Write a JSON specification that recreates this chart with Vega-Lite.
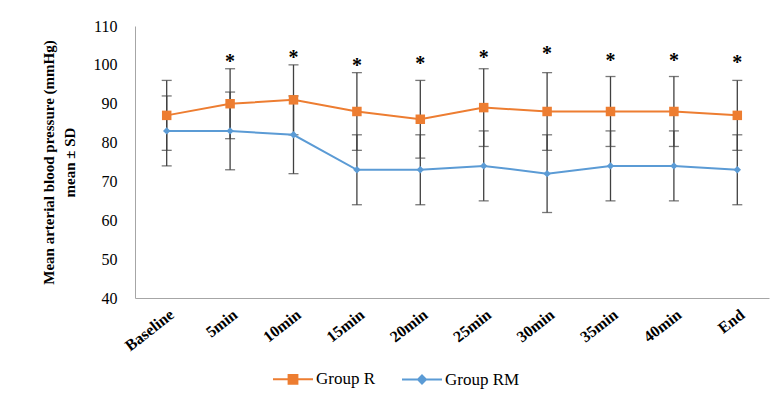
{
  "$schema": "https://vega.github.io/schema/vega-lite/v6.json",
  "width": 634,
  "height": 272,
  "autosize": "none",
  "padding": {"left": 135, "top": 26, "right": 13, "bottom": 96},
  "background": "white",
  "config": {
    "view": {"stroke": null},
    "font": "Liberation Serif",
    "axis": {"labelFont": "Liberation Serif", "titleFont": "Liberation Serif"},
    "legend": {"labelFont": "Liberation Serif"},
    "text": {"font": "Liberation Serif"}
  },
  "datasets": {
    "mbp": [
      {"time": "Baseline", "group": "Group R", "mean": 87, "low": 78, "high": 96},
      {"time": "5min", "group": "Group R", "mean": 90, "low": 81, "high": 99},
      {"time": "10min", "group": "Group R", "mean": 91, "low": 82, "high": 100},
      {"time": "15min", "group": "Group R", "mean": 88, "low": 78, "high": 98},
      {"time": "20min", "group": "Group R", "mean": 86, "low": 76, "high": 96},
      {"time": "25min", "group": "Group R", "mean": 89, "low": 79, "high": 99},
      {"time": "30min", "group": "Group R", "mean": 88, "low": 78, "high": 98},
      {"time": "35min", "group": "Group R", "mean": 88, "low": 79, "high": 97},
      {"time": "40min", "group": "Group R", "mean": 88, "low": 79, "high": 97},
      {"time": "End", "group": "Group R", "mean": 87, "low": 78, "high": 96},
      {"time": "Baseline", "group": "Group RM", "mean": 83, "low": 74, "high": 92},
      {"time": "5min", "group": "Group RM", "mean": 83, "low": 73, "high": 93},
      {"time": "10min", "group": "Group RM", "mean": 82, "low": 72, "high": 92},
      {"time": "15min", "group": "Group RM", "mean": 73, "low": 64, "high": 82},
      {"time": "20min", "group": "Group RM", "mean": 73, "low": 64, "high": 82},
      {"time": "25min", "group": "Group RM", "mean": 74, "low": 65, "high": 83},
      {"time": "30min", "group": "Group RM", "mean": 72, "low": 62, "high": 82},
      {"time": "35min", "group": "Group RM", "mean": 74, "low": 65, "high": 83},
      {"time": "40min", "group": "Group RM", "mean": 74, "low": 65, "high": 83},
      {"time": "End", "group": "Group RM", "mean": 73, "low": 64, "high": 82}
    ],
    "stars": [
      {"time": "5min", "pos": 102.0},
      {"time": "10min", "pos": 103.1},
      {"time": "15min", "pos": 100.9},
      {"time": "20min", "pos": 101.5},
      {"time": "25min", "pos": 103.1},
      {"time": "30min", "pos": 104.2},
      {"time": "35min", "pos": 102.4},
      {"time": "40min", "pos": 102.4},
      {"time": "End", "pos": 101.8}
    ]
  },
  "layer": [
    {
      "data": {"name": "mbp"},
      "mark": {"type": "rule", "color": "#404040", "strokeWidth": 1.3},
      "encoding": {
        "x": {
          "field": "time", "type": "nominal", "title": null,
          "scale": {"type": "point", "padding": 0.5, "domain": ["Baseline", "5min", "10min", "15min", "20min", "25min", "30min", "35min", "40min", "End"]},
          "axis": {"labelAngle": -38, "labelFont": "Liberation Serif", "labelFontWeight": "bold", "labelFontSize": 16, "labelColor": "#000", "ticks": false, "labelPadding": 8, "domainColor": "#a6a6a6", "domainWidth": 1, "grid": false, "labelOverlap": false}
        },
        "y": {
          "field": "low", "type": "quantitative",
          "title": ["Mean arterial blood pressure (mmHg)", "mean ± SD"],
          "scale": {"domain": [40, 110], "nice": false},
          "axis": {"values": [40, 50, 60, 70, 80, 90, 100, 110], "labelOverlap": false, "grid": false, "ticks": false, "labelPadding": 18, "labelFont": "Liberation Serif", "labelFontSize": 16, "labelColor": "#000", "domainColor": "#a6a6a6", "domainWidth": 1, "titleFont": "Liberation Serif", "titleFontSize": 15, "titleFontWeight": "bold", "titleColor": "#000", "titleLineHeight": 21, "titlePadding": 16}
        },
        "y2": {"field": "high"}
      }
    },
    {
      "data": {"name": "mbp"},
      "mark": {"type": "tick", "color": "#404040", "thickness": 1.3, "size": 10, "orient": "horizontal"},
      "encoding": {
        "x": {"field": "time", "type": "nominal"},
        "y": {"field": "low", "type": "quantitative", "title": ["Mean arterial blood pressure (mmHg)", "mean ± SD"], "axis": {"values": [40, 50, 60, 70, 80, 90, 100, 110], "labelOverlap": false}}
      }
    },
    {
      "data": {"name": "mbp"},
      "mark": {"type": "tick", "color": "#404040", "thickness": 1.3, "size": 10, "orient": "horizontal"},
      "encoding": {
        "x": {"field": "time", "type": "nominal"},
        "y": {"field": "high", "type": "quantitative", "title": ["Mean arterial blood pressure (mmHg)", "mean ± SD"], "axis": {"values": [40, 50, 60, 70, 80, 90, 100, 110], "labelOverlap": false}}
      }
    },
    {
      "data": {"name": "mbp"},
      "mark": {"type": "line", "strokeWidth": 2},
      "encoding": {
        "x": {"field": "time", "type": "nominal"},
        "y": {"field": "mean", "type": "quantitative", "title": ["Mean arterial blood pressure (mmHg)", "mean ± SD"], "axis": {"values": [40, 50, 60, 70, 80, 90, 100, 110], "labelOverlap": false}},
        "color": {
          "field": "group", "type": "nominal",
          "scale": {"domain": ["Group R", "Group RM"], "range": ["#ED7D31", "#5B9BD5"]},
          "legend": {
            "title": null, "orient": "none", "direction": "horizontal",
            "legendX": 137, "legendY": 332,
            "symbolSize": 1600, "symbolStrokeWidth": 2,
            "labelFont": "Liberation Serif", "labelFontSize": 17, "labelColor": "#000", "labelOffset": 2, "columnPadding": 22,
            "encode": {
              "symbols": {
                "update": {
                  "shape": {"signal": "datum.value === 'Group R' ? 'M-1,0H1M-0.22,-0.22H0.22V0.22H-0.22Z' : 'M-1,0H1M0,-0.2L0.2,0L0,0.2L-0.2,0Z'"},
                  "fill": {"scale": "color", "field": "value"},
                  "stroke": {"scale": "color", "field": "value"},
                  "strokeWidth": {"value": 2},
                  "fillOpacity": {"value": 1},
                  "strokeOpacity": {"value": 1}
                }
              }
            }
          }
        }
      }
    },
    {
      "data": {"name": "mbp"},
      "transform": [{"filter": "datum.group === 'Group R'"}],
      "mark": {"type": "point", "filled": true, "opacity": 1, "shape": "square", "size": 90, "color": "#ED7D31"},
      "encoding": {
        "x": {"field": "time", "type": "nominal"},
        "y": {"field": "mean", "type": "quantitative", "title": ["Mean arterial blood pressure (mmHg)", "mean ± SD"], "axis": {"values": [40, 50, 60, 70, 80, 90, 100, 110], "labelOverlap": false}}
      }
    },
    {
      "data": {"name": "mbp"},
      "transform": [{"filter": "datum.group === 'Group RM'"}],
      "mark": {"type": "point", "filled": true, "opacity": 1, "shape": "diamond", "size": 55, "color": "#5B9BD5"},
      "encoding": {
        "x": {"field": "time", "type": "nominal"},
        "y": {"field": "mean", "type": "quantitative", "title": ["Mean arterial blood pressure (mmHg)", "mean ± SD"], "axis": {"values": [40, 50, 60, 70, 80, 90, 100, 110], "labelOverlap": false}}
      }
    },
    {
      "data": {"name": "stars"},
      "mark": {"type": "text", "text": "*", "font": "Liberation Serif", "fontSize": 20, "fontWeight": "bold", "color": "#000", "baseline": "alphabetic", "dy": 11},
      "encoding": {
        "x": {"field": "time", "type": "nominal"},
        "y": {"field": "pos", "type": "quantitative", "title": ["Mean arterial blood pressure (mmHg)", "mean ± SD"], "axis": {"values": [40, 50, 60, 70, 80, 90, 100, 110], "labelOverlap": false}}
      }
    }
  ]
}
